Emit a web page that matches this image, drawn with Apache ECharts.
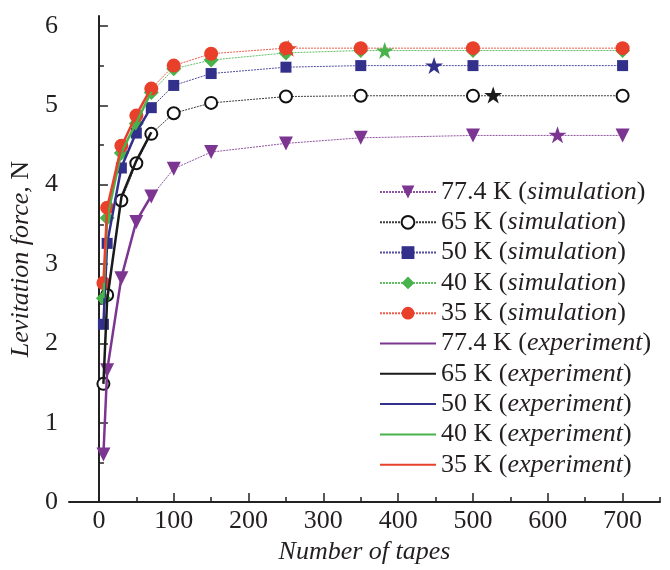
<!DOCTYPE html>
<html>
<head>
<meta charset="utf-8">
<script src="https://cdn.jsdelivr.net/npm/echarts@6/dist/echarts.min.js"></script>
<style>
  html, body { margin: 0; padding: 0; background: #fff; }
  #chart { width: 670px; height: 570px; }
</style>
</head>
<body>
<div id="chart"></div>
<script>
// Number of tapes for the simulated points
const simTapes = [6, 11, 30, 50, 70, 100, 150, 250, 350, 500, 700];
// Simulated levitation force, N
const sim774 = [0.60, 1.66, 2.82, 3.53, 3.85, 4.20, 4.41, 4.52, 4.59, 4.62, 4.62];
const sim65  = [1.49, 2.61, 3.80, 4.27, 4.64, 4.90, 5.03, 5.11, 5.12, 5.12, 5.12];
const sim50  = [2.24, 3.26, 4.21, 4.65, 4.97, 5.25, 5.40, 5.48, 5.50, 5.50, 5.50];
const sim40  = [2.57, 3.58, 4.40, 4.77, 5.16, 5.46, 5.57, 5.66, 5.69, 5.69, 5.69];
const sim35  = [2.76, 3.71, 4.49, 4.87, 5.21, 5.50, 5.65, 5.72, 5.72, 5.72, 5.72];

// Measured curves at small tape counts
const expTapes = [6, 11, 30, 50, 70];
const exp774 = [0.60, 1.66, 2.83, 3.54, 3.86];
const exp65  = [1.49, 2.55, 3.84, 4.30, 4.66];
const exp50  = [2.24, 3.26, 4.22, 4.66, 4.98];
const exp40  = [2.57, 3.58, 4.41, 4.78, 5.17];
const exp35  = [2.76, 3.71, 4.48, 4.88, 5.22];

// Measured saturation values (stars): tape count and force
const starTapes = [613, 527, 448, 382, 253];
const starForce = [4.63, 5.13, 5.50, 5.69, 5.72];

const temps = ['77.4 K', '65 K', '50 K', '40 K', '35 K'];
const colors = ['#7d3592', '#1a1a1a', '#33308c', '#47b34a', '#e8402a'];

const xMajor = [0, 100, 200, 300, 400, 500, 600, 700];
const xMinor = [50, 150, 250, 350, 450, 550, 650, 750];
const yMajor = [0, 1, 2, 3, 4, 5, 6];
const yMinor = [0.5, 1.5, 2.5, 3.5, 4.5, 5.5];

const FONT = 'Liberation Serif';
const INK = '#231f20';

const zip = (xs, ys) => xs.map((x, i) => [x, ys[i]]);

const simSets = [sim774, sim65, sim50, sim40, sim35];
const expSets = [exp774, exp65, exp50, exp40, exp35];
const simSymbols = [
  { symbol: 'triangle', symbolRotate: 180, symbolSize: 14 },
  { symbol: 'emptyCircle', symbolSize: 12 },
  { symbol: 'rect', symbolSize: 11 },
  { symbol: 'diamond', symbolSize: 15 },
  { symbol: 'circle', symbolSize: 14 }
];
const starPath = 'path://M50,0 L61.8,35.1 L98.6,35.1 L68.8,56.8 L80.2,91.9 L50,70.2 L19.8,91.9 L31.2,56.8 L1.4,35.1 L38.2,35.1 Z';

const series = [];
temps.forEach((t, i) => {
  const s = simSymbols[i];
  series.push({
    name: t + ' (simulation)',
    type: 'line',
    data: zip(simTapes, simSets[i]),
    symbol: s.symbol,
    symbolSize: s.symbolSize,
    symbolRotate: s.symbolRotate || 0,
    showAllSymbol: true,
    lineStyle: { color: colors[i], width: 1, type: [2, 1], opacity: 0.85 },
    itemStyle: i === 1
      ? { color: '#111', borderColor: '#111', borderWidth: 1.2 }
      : { color: colors[i], borderWidth: 0 },
    z: 3
  });
});
temps.forEach((t, i) => {
  series.push({
    name: t + ' (experiment)',
    type: 'line',
    data: zip(expTapes, expSets[i]),
    symbol: 'none',
    lineStyle: { color: colors[i], width: 2.5 },
    itemStyle: { color: colors[i] },
    z: 4
  });
});
temps.forEach((t, i) => {
  series.push({
    name: t + ' saturation',
    type: 'scatter',
    data: [[starTapes[i], starForce[i]]],
    symbol: starPath,
    symbolKeepAspect: true,
    symbolSize: 18,
    itemStyle: { color: colors[i], opacity: 1 },
    z: 5
  });
});

// Legend: simulation entries show line + marker, experiment entries a plain line
const legendData = [];
temps.forEach(t => legendData.push({ name: t + ' (simulation)' }));
temps.forEach(t => legendData.push({ name: t + ' (experiment)', itemStyle: { opacity: 0 } }));

const axisLineStyle = { color: '#222', width: 2 };

const option = {
  animation: false,
  backgroundColor: '#fff',
  textStyle: { fontFamily: FONT, color: INK },
  grid: { left: 69, right: 10, top: 16, bottom: 64, containLabel: false },
  legend: {
    data: legendData,
    orient: 'vertical',
    left: 374,
    top: 174,
    itemWidth: 56,
    itemHeight: 16,
    itemGap: 4.3,
    selectedMode: false,
    formatter: name => name.replace(/\((.*)\)/, '({i|$1})'),
    textStyle: {
      fontFamily: FONT, fontSize: 26, color: INK, lineHeight: 26,
      rich: { i: { fontFamily: FONT, fontSize: 26, fontStyle: 'italic', color: INK, lineHeight: 26 } }
    }
  },
  xAxis: [
    {
      type: 'value', min: -40, max: 750, position: 'bottom',
      name: 'Number of tapes', nameLocation: 'middle', nameGap: 33,
      nameTextStyle: { fontFamily: FONT, fontSize: 26, fontStyle: 'italic', color: INK },
      axisLine: { show: true, lineStyle: axisLineStyle },
      axisTick: { show: true, inside: true, length: 9, customValues: xMajor, lineStyle: { color: '#222', width: 1.5 } },
      axisLabel: { customValues: xMajor, fontFamily: FONT, fontSize: 26, color: INK, margin: 6 },
      splitLine: { show: false }
    },
    {
      type: 'value', min: -40, max: 750, position: 'bottom', gridIndex: 0,
      axisLine: { show: false },
      axisTick: { show: true, inside: true, length: 5, customValues: xMinor, lineStyle: { color: '#222', width: 1.5 } },
      axisLabel: { show: false },
      splitLine: { show: false }
    }
  ],
  yAxis: [
    {
      type: 'value', min: 0, max: 6.125, position: 'left',
      name: '{i|Levitation force,} N', nameLocation: 'middle', nameGap: 26,
      nameTextStyle: {
        fontFamily: FONT, fontSize: 26, color: INK,
        rich: { i: { fontFamily: FONT, fontSize: 26, fontStyle: 'italic', color: INK } }
      },
      axisLine: { show: true, lineStyle: axisLineStyle },
      axisTick: { show: true, inside: true, length: 9, customValues: yMajor, lineStyle: { color: '#222', width: 1.5 } },
      axisLabel: { customValues: yMajor, fontFamily: FONT, fontSize: 26, color: INK, margin: 11 },
      splitLine: { show: false }
    },
    {
      type: 'value', min: 0, max: 6.125, position: 'left', gridIndex: 0,
      axisLine: { show: false },
      axisTick: { show: true, inside: true, length: 5, customValues: yMinor, lineStyle: { color: '#222', width: 1.5 } },
      axisLabel: { show: false },
      splitLine: { show: false }
    }
  ],
  series: series
};

const chart = echarts.init(document.getElementById('chart'), null, { renderer: 'canvas' });
chart.setOption(option);
</script>
</body>
</html>
